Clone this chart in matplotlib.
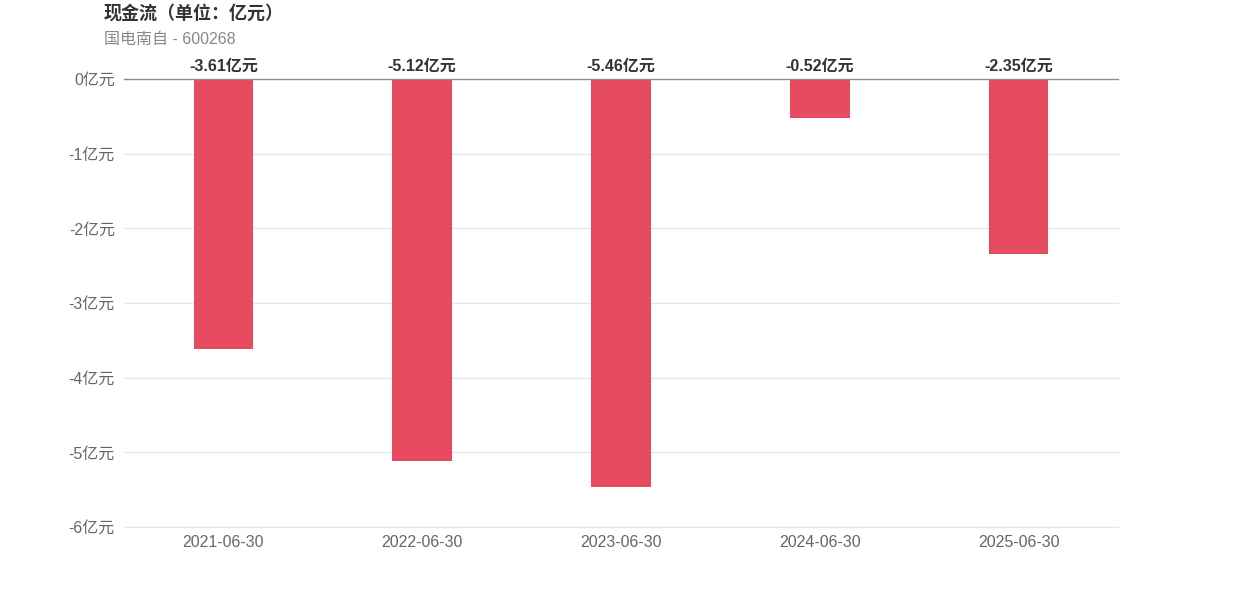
import matplotlib
matplotlib.use("Agg")
import matplotlib.pyplot as plt

plt.rcParams['font.family'] = ['Liberation Sans', 'Noto Sans CJK SC', 'DejaVu Sans']

categories = ["2021-06-30", "2022-06-30", "2023-06-30", "2024-06-30", "2025-06-30"]
values = [-3.61, -5.12, -5.46, -0.52, -2.35]
yticks = [0, -1, -2, -3, -4, -5, -6]
title = "现金流（单位：亿元）"
subtitle = "国电南自 - 600268"

fig = plt.figure(figsize=(12.42, 5.96), dpi=100)
ax = fig.add_axes([124/1242, 1-527/596, 994/1242, 448/596])

x = range(len(categories))
ax.bar(x, values, width=0.3, color="#e64b5f", zorder=2)
ax.set_xlim(-0.5, len(categories)-0.5)
ax.set_ylim(-6, 0)
ax.set_yticks(yticks)
ax.set_yticklabels([f"{t}亿元" for t in yticks])
ax.set_xticks(list(x))
ax.set_xticklabels(categories)
for s in ax.spines.values():
    s.set_visible(False)
ax.tick_params(axis='both', length=0, colors="#666666", labelsize=11.5)
ax.tick_params(axis='x', pad=6)
ax.tick_params(axis='y', pad=6.5)
for lbl in ax.get_yticklabels():
    lbl.set_y(lbl.get_position()[1])
for t in yticks:
    if t == 0:
        ax.axhline(t, color="#8c8c8c", lw=1.0, zorder=3, clip_on=False)
    else:
        ax.axhline(t, color="#e0e6f1", lw=0.9, zorder=1, clip_on=False)

for i, v in enumerate(values):
    ax.annotate(f"{v:.2f}亿元", xy=(i, 0), xytext=(0, 3.5), textcoords="offset points",
                ha="center", va="bottom", fontsize=11.5, fontweight="bold", color="#333333")

fig.text(104/1242, 1-13.5/596, title, fontsize=13, fontweight="bold", color="#333333", va="center", ha="left")
fig.text(104/1242, 1-39/596, subtitle, fontsize=11.5, color="#888888", va="center", ha="left")

fig.savefig("out.png", dpi=100)
